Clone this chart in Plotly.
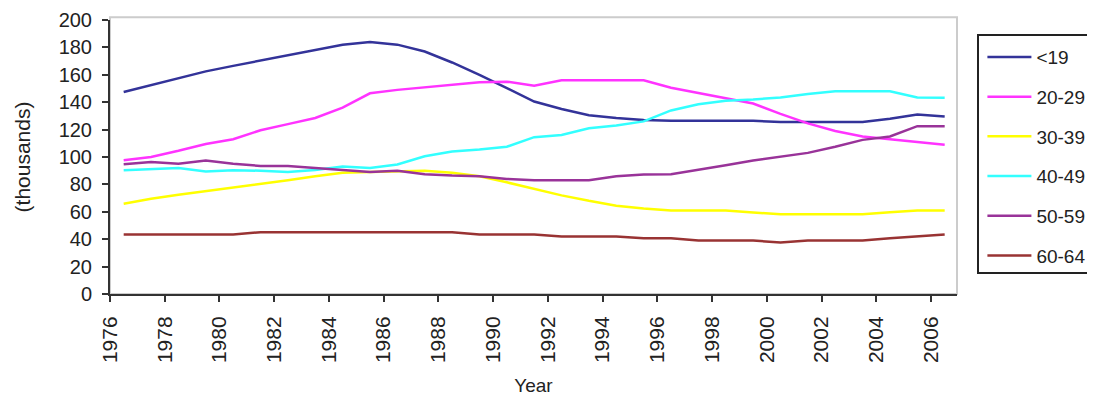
import plotly.graph_objects as go

years = list(range(1976, 2007))
x_pos = [y + 0.5 for y in years]

under19 = [147.5, 152.5, 157.5, 162.5, 166.5, 170.5, 174.5, 178.5, 182, 184, 182,
           177, 169, 160, 150, 140.5, 135, 130.5, 128.5, 127, 126.5, 126.5, 126.5,
           126.5, 125.5, 125.5, 125.5, 125.5, 128, 131, 129.5]
age20_29 = [97.6, 100, 104.5, 109.5, 113, 119.5, 124, 128.5, 136, 146.5, 149, 151,
            153, 154.5, 155, 152, 156, 156, 156, 156, 150.5, 146.5, 142.5, 139,
            131.5, 124.5, 119, 115, 113, 111, 109]
age30_39 = [65.9, 69.5, 72.5, 75, 77.5, 80, 83, 86, 88.5, 89, 89.5, 90, 88.5, 86,
            81.5, 76.5, 72, 68, 64.5, 62.5, 61, 61, 61, 59.5, 58.3, 58.3, 58.3, 58.3,
            59.7, 61, 61]
age40_49 = [90.3, 91, 92, 89.5, 90.3, 90, 89, 90.5, 93, 92, 94.5, 100.5, 104, 105.5,
            107.5, 114.5, 116, 121, 123, 126, 134, 138.5, 141, 142, 143.5, 146, 148,
            148, 148, 143.5, 143.2]
age50_59 = [94.7, 96.3, 95, 97.5, 95, 93.5, 93.4, 92, 90.5, 89, 90, 87.5, 86.5, 86,
            84, 83, 83, 83, 86, 87.3, 87.5, 90.5, 94, 97.5, 100.5, 103, 107.5, 112.5,
            115, 122.5, 122.5]
age60_64 = [43.4, 43.4, 43.4, 43.4, 43.4, 45.1, 45.1, 45.1, 45.1, 45.1, 45.1, 45.1,
            45.1, 43.4, 43.4, 43.4, 41.9, 41.9, 41.9, 40.7, 40.7, 39, 39, 39, 37.6,
            39, 39, 39, 40.7, 41.9, 43.4]

series_names = ["<19", "20-29", "30-39", "40-49", "50-59", "60-64"]
series_values = [under19, age20_29, age30_39, age40_49, age50_59, age60_64]
series_colors = ["#333399", "#FF33FF", "#FFFF00", "#33FFFF", "#993399", "#993333"]

tick_years = list(range(1976, 2007, 2))

fig = go.Figure()
for name, vals, col in zip(series_names, series_values, series_colors):
    fig.add_trace(go.Scatter(x=x_pos, y=vals, name=name, mode="lines",
                             line=dict(color=col, width=2.5), legendgroup=name))

font_family = "Liberation Sans, Arial, sans-serif"

# page body has an 8px default margin, so the figure is sized/offset to compensate
fig.update_layout(
    width=1087, height=388,
    margin=dict(l=102, r=138, t=12, b=102, autoexpand=False),
    paper_bgcolor="white", plot_bgcolor="white",
    font=dict(family=font_family, color="#222222", size=18),
    showlegend=True,
    legend=dict(x=1.03, xanchor="left", y=0.934, yanchor="top",
                bgcolor="rgba(0,0,0,0)", borderwidth=0,
                font=dict(size=19, color="#222222"),
                tracegroupgap=12, itemwidth=44),
    xaxis=dict(range=[1976, 2006.95], tickvals=tick_years,
               ticktext=[str(t) for t in tick_years], tickangle=-90,
               showgrid=False, zeroline=False,
               showline=True, linecolor="#333333", linewidth=2,
               ticks="outside", ticklen=6, tickwidth=2, tickcolor="#333333",
               tickfont=dict(size=21), ticklabelstandoff=6,
               title=dict(text="Year", font=dict(size=19), standoff=28)),
    yaxis=dict(range=[0, 200], tickvals=list(range(0, 201, 20)),
               showgrid=False, zeroline=False,
               showline=True, linecolor="#333333", linewidth=2,
               ticks="outside", ticklen=6, tickwidth=2, tickcolor="#333333",
               tickfont=dict(size=20), ticklabelstandoff=6,
               title=dict(text="(thousands)", font=dict(size=21), standoff=22)),
    shapes=[
        dict(type="rect", xref="x domain", yref="y domain", x0=0, x1=1, y0=0, y1=1.01,
             line=dict(color="#CCCCCC", width=2), layer="below"),
        dict(type="rect", xref="paper", yref="paper", x0=1.0248, x1=1.2,
             y0=0.0766, y1=0.945, line=dict(color="#222222", width=2)),
    ],
)

fig.write_html("out.html")
